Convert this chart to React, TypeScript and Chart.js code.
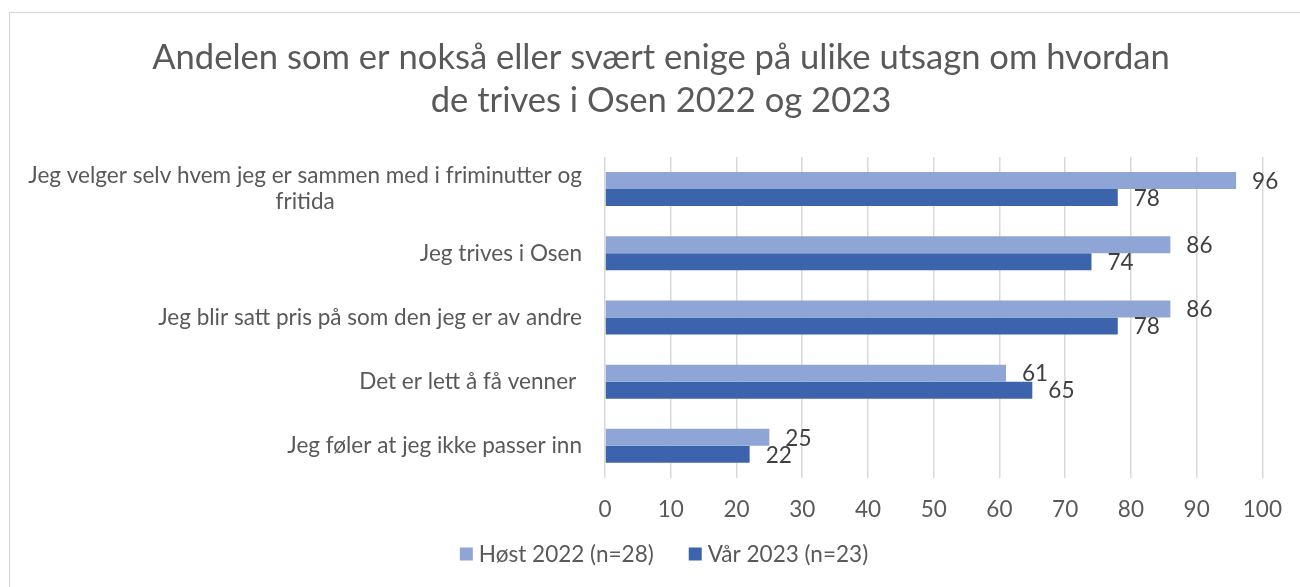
import React, { useEffect, useRef } from "react";
import { Chart, registerables } from "chart.js";

Chart.register(...registerables);

const titleLines = [
  "Andelen som er nokså eller svært enige på ulike utsagn om hvordan",
  "de trives i Osen 2022 og 2023",
];
const categoryLabels: string[][] = [
  ["Jeg velger selv hvem jeg er sammen med i friminutter og", "fritida"],
  ["Jeg trives i Osen"],
  ["Jeg blir satt pris på som den jeg er av andre"],
  ["Det er lett å få venner "],
  ["Jeg føler at jeg ikke passer inn"],
];
const host2022 = [96, 86, 86, 61, 25];
const var2023 = [78, 74, 78, 65, 22];
const seriesNames = ["Høst 2022 (n=28)", "Vår 2023 (n=23)"];
const seriesColors = ["#8FA5D5", "#3C64AD"];
const xMin = 0;
const xMax = 100;
const xStep = 10;

const FONT = "Lato, 'Open Sans', sans-serif";
const TEXT = "#595959";
const LABEL_TEXT = "#404040";

function fitSize(ctx: CanvasRenderingContext2D, text: string, target: number) {
  ctx.font = `100px ${FONT}`;
  const w = ctx.measureText(text).width;
  return (100 * target) / w;
}

export default function App() {
  const ref = useRef<HTMLCanvasElement | null>(null);

  useEffect(() => {
    const canvas = ref.current;
    if (!canvas) return;
    const mctx = canvas.getContext("2d") as CanvasRenderingContext2D;
    const baseSize = fitSize(mctx, categoryLabels[0][0], 554);
    const titleSize = fitSize(mctx, titleLines[0], 1018);

    const decor = {
      id: "decor",
      afterDatasetsDraw(chart: any) {
        const ctx = chart.ctx as CanvasRenderingContext2D;
        ctx.save();
        ctx.font = `${baseSize}px ${FONT}`;
        ctx.fillStyle = LABEL_TEXT;
        ctx.textAlign = "left";
        ctx.textBaseline = "middle";
        chart.data.datasets.forEach((ds: any, di: number) => {
          const meta = chart.getDatasetMeta(di);
          meta.data.forEach((el: any, i: number) => {
            ctx.fillText(String(ds.data[i]), el.x + 16, el.y + 1);
          });
        });
        ctx.restore();
      },
      afterDraw(chart: any) {
        const ctx = chart.ctx as CanvasRenderingContext2D;
        ctx.save();
        ctx.font = `${titleSize}px ${FONT}`;
        ctx.fillStyle = TEXT;
        ctx.textAlign = "center";
        ctx.textBaseline = "alphabetic";
        ctx.fillText(titleLines[0], 661, 69);
        ctx.fillText(titleLines[1], 661, 112);

        const yScale = chart.scales.y;
        ctx.font = `${baseSize}px ${FONT}`;
        ctx.textBaseline = "middle";
        const rightEdge = 582;
        const lh = 26;
        categoryLabels.forEach((lines, i) => {
          const cy = yScale.getPixelForValue(i);
          const startY = cy - ((lines.length - 1) * lh) / 2;
          if (lines.length > 1) {
            const maxW = Math.max(...lines.map((l) => ctx.measureText(l).width));
            ctx.textAlign = "center";
            lines.forEach((l, k) => ctx.fillText(l, rightEdge - maxW / 2, startY + k * lh));
          } else {
            ctx.textAlign = "right";
            ctx.fillText(lines[0], rightEdge, startY);
          }
        });

        const box = 13;
        const gap = 6;
        const itemGap = 35;
        const widths = seriesNames.map((n) => ctx.measureText(n).width);
        const total = widths.reduce((a, w) => a + box + gap + w, 0) + itemGap * (seriesNames.length - 1);
        let x = 664 - total / 2;
        const ly = 554;
        ctx.textAlign = "left";
        seriesNames.forEach((n, i) => {
          ctx.fillStyle = seriesColors[i];
          ctx.fillRect(x, ly - box / 2, box, box);
          ctx.fillStyle = TEXT;
          ctx.fillText(n, x + box + gap, ly + 1);
          x += box + gap + widths[i] + itemGap;
        });
        ctx.restore();
      },
    };

    const chart = new Chart(canvas, {
      type: "bar",
      data: {
        labels: categoryLabels.map((l) => l.join(" ")),
        datasets: [
          {
            label: seriesNames[0],
            data: host2022,
            backgroundColor: seriesColors[0],
            borderWidth: 0,
            categoryPercentage: 0.53,
            barPercentage: 1,
          },
          {
            label: seriesNames[1],
            data: var2023,
            backgroundColor: seriesColors[1],
            borderWidth: 0,
            categoryPercentage: 0.53,
            barPercentage: 1,
          },
        ],
      },
      options: {
        indexAxis: "y",
        responsive: false,
        animation: false,
        layout: { padding: { left: 605, right: 34, top: 157, bottom: 46 } },
        plugins: {
          legend: { display: false },
          title: { display: false },
          tooltip: { enabled: false },
        },
        scales: {
          x: {
            min: xMin,
            max: xMax,
            ticks: {
              stepSize: xStep,
              color: TEXT,
              font: { family: FONT, size: baseSize },
              padding: 18,
            },
            grid: { color: "#d9d9d9", lineWidth: 1.5, drawTicks: false },
            border: { display: false },
          },
          y: {
            display: false,
          },
        },
      },
      plugins: [decor],
    } as any);

    return () => chart.destroy();
  }, []);

  return (
    <div
      style={{
        position: "fixed",
        left: 0,
        top: 0,
        width: 1300,
        height: 587,
        overflow: "hidden",
        background: "#ffffff",
      }}
    >
      <div
        style={{
          position: "absolute",
          left: 9,
          top: 12,
          width: 1400,
          height: 700,
          border: "1px solid #d6d6d6",
          boxSizing: "border-box",
        }}
      />
      <canvas
        ref={ref}
        width={1300}
        height={587}
        style={{ position: "absolute", left: 0, top: 0, width: 1300, height: 587 }}
      />
    </div>
  );
}
